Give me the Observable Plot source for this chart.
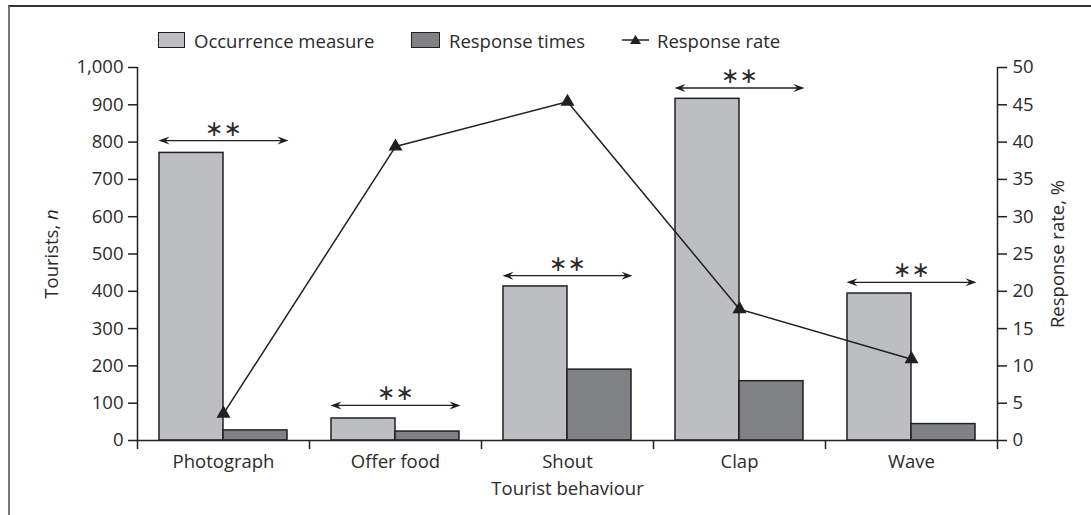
<!DOCTYPE html>
<html>
<head>
<meta charset="utf-8">
<script src="https://cdn.jsdelivr.net/npm/d3@7"></script>
<script src="https://cdn.jsdelivr.net/npm/@observablehq/plot@0.6"></script>
<style>
  body { margin: 0; background: #fff; font-family: "Open Sans", sans-serif; }
  #fig { position: relative; width: 1091px; height: 515px; overflow: hidden; }
  #frame { position: absolute; left: 8px; top: 5px; width: 1100px; height: 520px;
           border-top: 2px solid #333; border-left: 2px solid #777; pointer-events: none; }
  #legend { position: relative; height: 40px; font-size: 18.5px; color: #2b2b2b; }
  .item { position: absolute; top: 27px; height: 26px; display: flex; align-items: center; white-space: nowrap; }
  .sw { width: 27px; height: 16px; box-sizing: border-box; border: 1.5px solid #231f20; margin-right: 9px; }
  #chart svg { display: block; }
</style>
</head>
<body>
<div id="fig">
  <div id="legend"></div>
  <div id="chart"></div>
  <div id="frame"></div>
</div>
<script>
// ---- data ----
const categories   = ["Photograph", "Offer food", "Shout", "Clap", "Wave"];
const occurrence   = [771, 59, 413, 916, 394];     // Tourists, n
const responseTimes = [27, 24, 190, 159, 44];      // Tourists, n
const responseRate = [3.6, 39.4, 45.4, 17.6, 10.9]; // %
const sigLevel     = [804, 94, 442, 945, 424];     // height of the ** arrows (left scale)
const sigLabel     = ["∗∗", "∗∗", "∗∗", "∗∗", "∗∗"];
const leftTicks    = [0, 100, 200, 300, 400, 500, 600, 700, 800, 900, 1000];
const rightTicks   = [0, 5, 10, 15, 20, 25, 30, 35, 40, 45, 50];
const seriesNames  = ["Occurrence measure", "Response times", "Response rate"];
const colors       = {occ: "#bdbec2", resp: "#808185", ink: "#231f20"};

const RATE_SCALE = 1000 / 50; // right axis 0–50 maps to left 0–1000

const table = categories.map((c, i) => ({
  category: c,
  occurrence: occurrence[i],
  responses: responseTimes[i],
  rate: responseRate[i],
  sig: sigLevel[i],
  sigText: sigLabel[i]
}));

// ---- legend (HTML) ----
const legend = document.getElementById("legend");
function addItem(left, swatchHTML, label) {
  const d = document.createElement("div");
  d.className = "item";
  d.style.left = left + "px";
  d.innerHTML = swatchHTML + `<span>${label}</span>`;
  legend.appendChild(d);
}
addItem(158, `<div class="sw" style="background:${colors.occ}"></div>`, seriesNames[0]);
addItem(411, `<div class="sw" style="background:${colors.resp};width:29px"></div>`, seriesNames[1]);
addItem(622, `<svg width="35" height="16"><line x1="0" x2="27" y1="8" y2="8" stroke="${colors.ink}" stroke-width="1.5"/><path d="M13.5,3 L19,12 L8,12 Z" fill="${colors.ink}"/></svg>`, seriesNames[2]);

// ---- chart ----
const W = 1091, H = 475;
const mL = 137, mR = 94, mT = 27, mB = 75;
const bw = (W - mL - mR) / categories.length; // band width in px
const pad = 22;         // gap between group and band edge
const half = bw / 2;

// notched arrow head pointing right, tip at origin
const arrowHead = {
  draw(ctx, size) {
    const r = Math.sqrt(size / Math.PI);
    const L = 2.2 * r, Wd = 0.8 * r;
    ctx.moveTo(0, 0);
    ctx.lineTo(-L, -Wd);
    ctx.lineTo(-L * 0.65, 0);
    ctx.lineTo(-L, Wd);
    ctx.closePath();
  }
};

const plot = Plot.plot({
  width: W, height: H,
  marginLeft: mL, marginRight: mR, marginTop: mT, marginBottom: mB,
  style: {fontFamily: "'Open Sans', sans-serif", fontSize: "18.5px", color: "#2b2b2b", background: "transparent", overflow: "visible"},
  x: {domain: categories, padding: 0, axis: null},
  y: {domain: [0, 1000], axis: null},
  marks: [
    Plot.barY(table, {x: "category", y: "occurrence", fill: colors.occ, stroke: colors.ink, strokeWidth: 1.5,
                      insetLeft: pad, insetRight: half}),
    Plot.barY(table, {x: "category", y: "responses", fill: colors.resp, stroke: colors.ink, strokeWidth: 1.5,
                      insetLeft: half, insetRight: pad}),
    Plot.ruleY([0], {stroke: colors.ink, strokeWidth: 1.5}),
    Plot.ruleX([categories[0]], {y1: 0, y2: 1000, dx: -half, stroke: colors.ink, strokeWidth: 1.5}),
    Plot.ruleX([categories[categories.length - 1]], {y1: 0, y2: 1000, dx: half, stroke: colors.ink, strokeWidth: 1.5}),
    // boundary ticks on x axis
    Plot.axisX({tickSize: 9, tickFormat: () => "", dx: -half, label: null, stroke: colors.ink, strokeWidth: 1.5}),
    Plot.axisX({ticks: [categories[categories.length - 1]], tickSize: 9, tickFormat: () => "", dx: half, label: null, stroke: colors.ink, strokeWidth: 1.5}),
    // category labels + axis title
    Plot.axisX({tickSize: 0, tickPadding: 14, label: "Tourist behaviour", labelAnchor: "center", labelOffset: 54, fill: "#2b2b2b"}),
    Plot.axisY({anchor: "left", ticks: leftTicks, tickFormat: d3.format(","), tickSize: 9, tickPadding: 5,
                label: "Tourists, n", labelArrow: "none", labelAnchor: "center", labelOffset: 93,
                stroke: colors.ink, strokeWidth: 1.5}),
    Plot.axisY({anchor: "right", ticks: rightTicks.map(v => v * RATE_SCALE), tickFormat: v => String(Math.round(v / RATE_SCALE)),
                tickSize: 9, tickPadding: 6, label: "Response rate, %", labelArrow: "none", labelAnchor: "center", labelOffset: 66,
                stroke: colors.ink, strokeWidth: 1.5}),
    // response rate line
    Plot.line(table, {x: "category", y: d => d.rate * RATE_SCALE, stroke: colors.ink, strokeWidth: 1.5}),
    Plot.dot(table, {x: "category", y: d => d.rate * RATE_SCALE, symbol: "triangle", r: 5.2, fill: colors.ink, stroke: "none"}),
    // significance arrows
    Plot.tickY(table, {x: "category", y: "sig", insetLeft: pad + 2, insetRight: pad + 2, stroke: colors.ink, strokeWidth: 1.3}),
    Plot.dot(table, {x: "category", y: "sig", symbol: arrowHead, r: 5, fill: colors.ink, stroke: "none", dx: half - pad + 1}),
    Plot.dot(table, {x: "category", y: "sig", symbol: arrowHead, r: 5, rotate: 180, fill: colors.ink, stroke: "none", dx: -(half - pad + 1)}),
    Plot.text(table, {x: "category", y: "sig", text: "sigText", dy: -12, fontSize: 22, fontFamily: "DejaVu Sans",
                      lineAnchor: "middle", fill: "#2b2b2b"})
  ]
});

// italic n in the left axis title
plot.querySelectorAll("text").forEach(t => {
  if (t.textContent.trim() === "Tourists, n" && t.children.length === 0) {
    t.textContent = "Tourists, ";
    const ts = document.createElementNS("http://www.w3.org/2000/svg", "tspan");
    ts.setAttribute("font-style", "italic");
    ts.textContent = "n";
    t.appendChild(ts);
  }
});

document.getElementById("chart").appendChild(plot);
</script>
</body>
</html>
